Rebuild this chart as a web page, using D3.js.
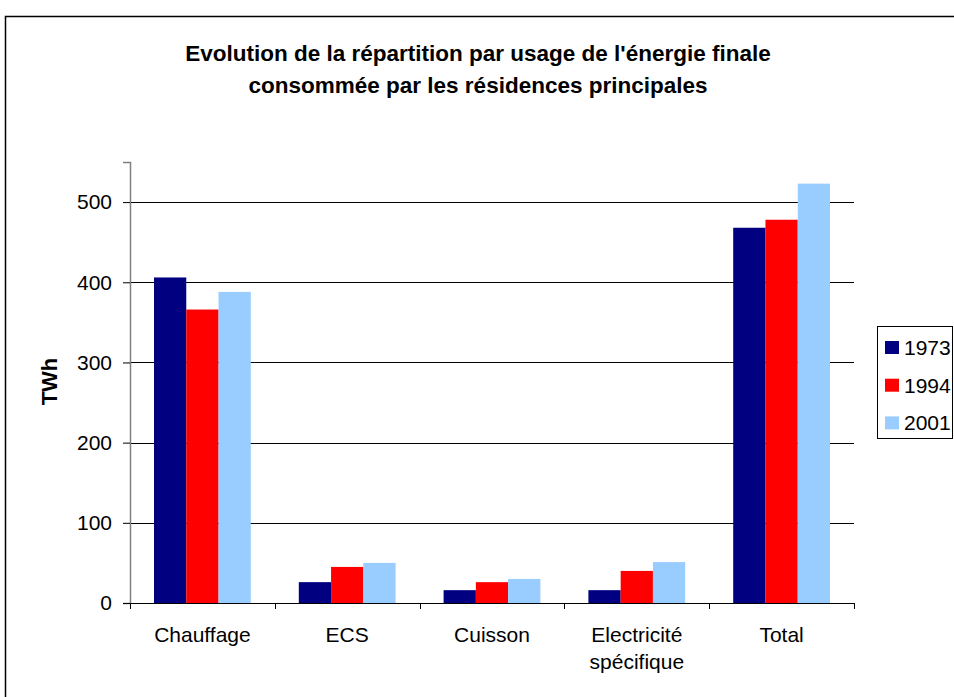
<!DOCTYPE html>
<html>
<head>
<meta charset="utf-8">
<script src="https://cdn.jsdelivr.net/npm/d3@7"></script>
<style>
  body { margin: 0; background: #fff; }
  text { font-family: Arial, "Liberation Sans", sans-serif; }
</style>
</head>
<body>
<div id="chart"></div>
<script>
// données (TWh)
var categories = ["Chauffage", "ECS", "Cuisson", "Electricité spécifique", "Total"];
var years = ["1973", "1994", "2001"];
var v1973 = [406, 26, 16, 16, 468];
var v1994 = [366, 45, 26, 40, 478];
var v2001 = [388, 50, 30, 51, 523];
var yTicks = [0, 100, 200, 300, 400, 500];
var colors = ["#000080", "#ff0000", "#99ccff"];

var series = [v1973, v1994, v2001];

var W = 954, H = 697;
var margin = {top: 162, right: 100, bottom: 94, left: 130},
    width = 854 - margin.left,
    height = 603 - margin.top;

var svg = d3.select("#chart").append("svg")
    .attr("width", W)
    .attr("height", H);

// cadre
svg.append("rect")
    .attr("x", 5.5).attr("y", 16.5)
    .attr("width", 1000).attr("height", 1000)
    .attr("fill", "none").attr("stroke", "#000").attr("stroke-width", 1.5);

// titre
svg.append("text")
    .attr("x", 478).attr("y", 61)
    .attr("text-anchor", "middle")
    .attr("font-size", 22.5).attr("font-weight", "bold")
    .text("Evolution de la répartition par usage de l'énergie finale");
svg.append("text")
    .attr("x", 478).attr("y", 93)
    .attr("text-anchor", "middle")
    .attr("font-size", 22.5).attr("font-weight", "bold")
    .text("consommée par les résidences principales");

var g = svg.append("g")
    .attr("transform", "translate(" + margin.left + "," + margin.top + ")");

var x0 = d3.scaleBand().domain(categories).range([0, width]).paddingInner(0).paddingOuter(0);
var x1 = d3.scaleBand().domain(years).range([24, x0.bandwidth() - 24]);
var y = d3.scaleLinear().domain([0, 550]).range([height, 0]);

// grille
g.append("g")
    .selectAll("line")
    .data(yTicks.slice(1))
    .enter().append("line")
    .attr("x1", 0).attr("x2", width)
    .attr("y1", function(d) { return Math.round(y(d)) + 0.5; })
    .attr("y2", function(d) { return Math.round(y(d)) + 0.5; })
    .attr("stroke", "#000").attr("stroke-width", 1);

// barres
var groups = g.selectAll("g.cat")
    .data(categories)
    .enter().append("g")
    .attr("class", "cat")
    .attr("transform", function(d) { return "translate(" + x0(d) + ",0)"; });

groups.selectAll("rect")
    .data(function(d, i) { return years.map(function(yr, j) { return {yr: yr, v: series[j][i], j: j}; }); })
    .enter().append("rect")
    .attr("x", function(d) { return x1(d.yr); })
    .attr("width", x1.bandwidth())
    .attr("y", function(d) { return y(d.v); })
    .attr("height", function(d) { return height - y(d.v); })
    .attr("fill", function(d) { return colors[d.j]; });

// axe Y
var yAxis = d3.axisLeft(y).tickValues(yTicks).tickSize(7).tickPadding(11);
var gy = g.append("g").call(yAxis);
gy.select(".domain").attr("stroke", "#808080").attr("stroke-width", 1.5);
gy.selectAll(".tick line").attr("stroke", "#000");
gy.selectAll(".tick text").attr("font-size", 21).attr("fill", "#000")
    .attr("font-family", "Arial, 'Liberation Sans', sans-serif");

// axe X
var xAxis = d3.axisBottom(x0).tickSize(0).tickFormat("");
var gx = g.append("g").attr("transform", "translate(0," + height + ")").call(xAxis);
gx.select(".domain").attr("stroke", "#000").attr("stroke-width", 1.2);
gx.selectAll(".sep")
    .data(d3.range(categories.length + 1))
    .enter().append("line")
    .attr("class", "sep")
    .attr("x1", function(i) { return Math.round(i * x0.bandwidth()) + 0.5; })
    .attr("x2", function(i) { return Math.round(i * x0.bandwidth()) + 0.5; })
    .attr("y1", 0).attr("y2", 6)
    .attr("stroke", "#000");

var labels = [["Chauffage"], ["ECS"], ["Cuisson"], ["Electricité", "spécifique"], ["Total"]];
gx.selectAll(".lbl")
    .data(categories)
    .enter().append("text")
    .attr("class", "lbl")
    .attr("text-anchor", "middle")
    .attr("font-size", 21)
    .attr("fill", "#000")
    .attr("font-family", "Arial, 'Liberation Sans', sans-serif")
    .attr("transform", function(d) { return "translate(" + (x0(d) + x0.bandwidth() / 2) + ",0)"; })
    .each(function(d, i) {
        var t = d3.select(this);
        labels[i].forEach(function(s, k) {
            t.append("tspan").attr("x", 0).attr("y", 39 + k * 27).text(s);
        });
    });

// titre axe Y
svg.append("text")
    .attr("transform", "translate(57," + (margin.top + height / 2 - 1) + ") rotate(-90)")
    .attr("text-anchor", "middle")
    .attr("font-size", 22).attr("font-weight", "bold")
    .text("TWh");

// légende
var leg = svg.append("g").attr("transform", "translate(877,326)");
leg.append("rect")
    .attr("x", 0.5).attr("y", 0.5).attr("width", 75).attr("height", 112)
    .attr("fill", "#fff").attr("stroke", "#000").attr("stroke-width", 1);
years.forEach(function(yr, j) {
    leg.append("rect")
        .attr("x", 8).attr("y", 15 + j * 37.7)
        .attr("width", 14).attr("height", 13)
        .attr("fill", colors[j]);
    leg.append("text")
        .attr("x", 27).attr("y", 29 + j * 37.7)
        .attr("font-size", 21)
        .text(yr);
});
</script>
</body>
</html>
